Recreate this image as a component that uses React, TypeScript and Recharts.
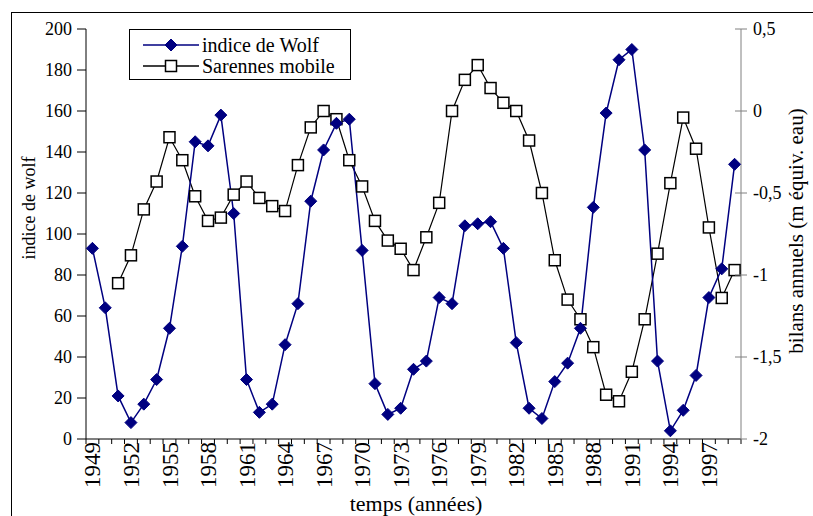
import React from "react";
import { ComposedChart, Line, XAxis, YAxis } from "recharts";

const YEARS = [
  1949, 1950, 1951, 1952, 1953, 1954, 1955, 1956, 1957, 1958,
  1959, 1960, 1961, 1962, 1963, 1964, 1965, 1966, 1967, 1968,
  1969, 1970, 1971, 1972, 1973, 1974, 1975, 1976, 1977, 1978,
  1979, 1980, 1981, 1982, 1983, 1984, 1985, 1986, 1987, 1988,
  1989, 1990, 1991, 1992, 1993, 1994, 1995, 1996, 1997, 1998,
  1999,
];

// indice de Wolf (axe gauche)
const WOLF = [
  93, 64, 21, 8, 17, 29, 54, 94, 145, 143,
  158, 110, 29, 13, 17, 46, 66, 116, 141, 154,
  156, 92, 27, 12, 15, 34, 38, 69, 66, 104,
  105, 106, 93, 47, 15, 10, 28, 37, 54, 113,
  159, 185, 190, 141, 38, 4, 14, 31, 69, 83,
  134,
];

// Sarennes mobile, bilans annuels en m équiv. eau (axe droit)
const SARENNES = [
  null, null, -1.05, -0.88, -0.6, -0.43, -0.16, -0.3, -0.52, -0.67,
  -0.65, -0.51, -0.43, -0.53, -0.58, -0.61, -0.33, -0.1, 0.0, -0.05,
  -0.3, -0.46, -0.67, -0.79, -0.84, -0.97, -0.77, -0.56, 0.0, 0.19,
  0.28, 0.14, 0.05, 0.0, -0.18, -0.5, -0.91, -1.15, -1.27, -1.44,
  -1.73, -1.77, -1.59, -1.27, -0.87, -0.44, -0.04, -0.23, -0.71, -1.14,
  -0.97,
];

const LEFT_TICKS = [0, 20, 40, 60, 80, 100, 120, 140, 160, 180, 200];
const RIGHT_TICKS = [-2, -1.5, -1, -0.5, 0, 0.5];

const data = YEARS.map((year, i) => ({
  year,
  wolf: WOLF[i],
  sarennes: SARENNES[i],
}));

const FONT = "Liberation Serif, DejaVu Serif, serif";
const NAVY = "#000080";
const PLOT_W = 655;
const BAND = PLOT_W / YEARS.length;

function Diamond({ cx, cy }: any) {
  if (cx == null || cy == null) return null;
  const r = 6;
  return (
    <polygon
      points={`${cx},${cy - r} ${cx + r},${cy} ${cx},${cy + r} ${cx - r},${cy}`}
      fill={NAVY}
      stroke={NAVY}
    />
  );
}

function Square({ cx, cy }: any) {
  if (cx == null || cy == null) return null;
  const h = 5.5;
  return (
    <rect x={cx - h} y={cy - h} width={h * 2} height={h * 2} fill="#fff" stroke="#000" strokeWidth={1.5} />
  );
}

function YearTick({ x, y, payload, index }: any) {
  const yr = payload.value;
  return (
    <g>
      <line x1={x - BAND / 2} x2={x - BAND / 2} y1={y} y2={y + 5} stroke="#000" />
      {index === YEARS.length - 1 && (
        <line x1={x + BAND / 2} x2={x + BAND / 2} y1={y} y2={y + 5} stroke="#000" />
      )}
      {(yr - YEARS[0]) % 3 === 0 && (
        <text
          transform={`translate(${x},${y + 3}) rotate(-90)`}
          textAnchor="end"
          dy="0.35em"
          style={{ fontFamily: FONT, fontSize: 23 }}
          fill="#000"
        >
          {yr}
        </text>
      )}
    </g>
  );
}

function RightTick({ x, y, payload }: any) {
  return (
    <g>
      <line x1={x - 6} x2={x + 6} y1={y} y2={y} stroke="#808080" />
      <text x={x + 12} y={y} dy="0.35em" style={{ fontFamily: FONT, fontSize: 18 }} fill="#000">
        {String(payload.value).replace(".", ",")}
      </text>
    </g>
  );
}

function LegendBox() {
  const row = (label: string, color: string, marker: React.ReactNode) => (
    <div style={{ display: "flex", alignItems: "center", height: 21 }}>
      <svg width={56} height={20} style={{ marginLeft: 13, marginRight: 3 }}>
        <line x1={0} x2={56} y1={10} y2={10} stroke={color} strokeWidth={1.5} />
        {marker}
      </svg>
      <span>{label}</span>
    </div>
  );
  return (
    <div
      style={{
        position: "absolute",
        left: 129,
        top: 29,
        border: "1px solid #000",
        background: "#fff",
        width: 222,
        height: 51,
        boxSizing: "border-box",
        paddingTop: 4,
        fontFamily: FONT,
        fontSize: 20,
        lineHeight: 1,
        color: "#000",
      }}
    >
      {row("indice de Wolf", NAVY, <Diamond cx={28} cy={10} />)}
      {row("Sarennes mobile", "#000", <Square cx={28} cy={10} />)}
    </div>
  );
}

export default function App() {
  return (
    <div style={{ position: "absolute", left: 0, top: 0, width: 813, height: 516, overflow: "hidden", background: "#fff" }}>
      <div
        style={{
          position: "absolute",
          left: 11,
          top: 12,
          width: 1000,
          height: 1000,
          borderTop: "1px solid #000",
          borderLeft: "1px solid #000",
        }}
      />
      <ComposedChart width={813} height={516} data={data} margin={{ top: 29, right: 0, bottom: 0, left: 0 }}>
        <XAxis
          dataKey="year"
          scale="band"
          height={77}
          interval={0}
          tickSize={0}
          tickMargin={0}
          tickLine={false}
          axisLine={{ stroke: "#000" }}
          tick={<YearTick />}
          label={{
            content: () => (
              <text x={416} y={511} textAnchor="middle" style={{ fontFamily: FONT, fontSize: 22 }} fill="#000">
                temps (années)
              </text>
            ),
          }}
        />
        <YAxis
          yAxisId="left"
          width={86}
          domain={[0, 200]}
          ticks={LEFT_TICKS}
          interval={0}
          tickSize={9}
          tickMargin={5}
          axisLine={{ stroke: "#000" }}
          tickLine={{ stroke: "#000" }}
          tick={{ fill: "#000", fontFamily: FONT, fontSize: 18 }}
          label={{
            content: () => (
              <text
                transform="translate(29,208) rotate(-90)"
                textAnchor="middle"
                dy="0.35em"
                style={{ fontFamily: FONT, fontSize: 18 }}
                fill="#000"
              >
                indice de wolf
              </text>
            ),
          }}
        />
        <YAxis
          yAxisId="right"
          orientation="right"
          width={72}
          domain={[-2, 0.5]}
          ticks={RIGHT_TICKS}
          interval={0}
          tickSize={0}
          tickMargin={0}
          tickLine={false}
          axisLine={{ stroke: "#808080" }}
          tick={<RightTick />}
          label={{
            content: () => (
              <text
                transform="translate(796,231) rotate(-90)"
                textAnchor="middle"
                dy="0.35em"
                style={{ fontFamily: FONT, fontSize: 21 }}
                fill="#000"
              >
                bilans annuels (m équiv. eau)
              </text>
            ),
          }}
        />
        <Line
          yAxisId="right"
          dataKey="sarennes"
          stroke="#000"
          strokeWidth={1.2}
          dot={<Square />}
          activeDot={false}
          isAnimationActive={false}
        />
        <Line
          yAxisId="left"
          dataKey="wolf"
          stroke={NAVY}
          strokeWidth={1.5}
          dot={<Diamond />}
          activeDot={false}
          isAnimationActive={false}
        />
      </ComposedChart>
      <LegendBox />
    </div>
  );
}
